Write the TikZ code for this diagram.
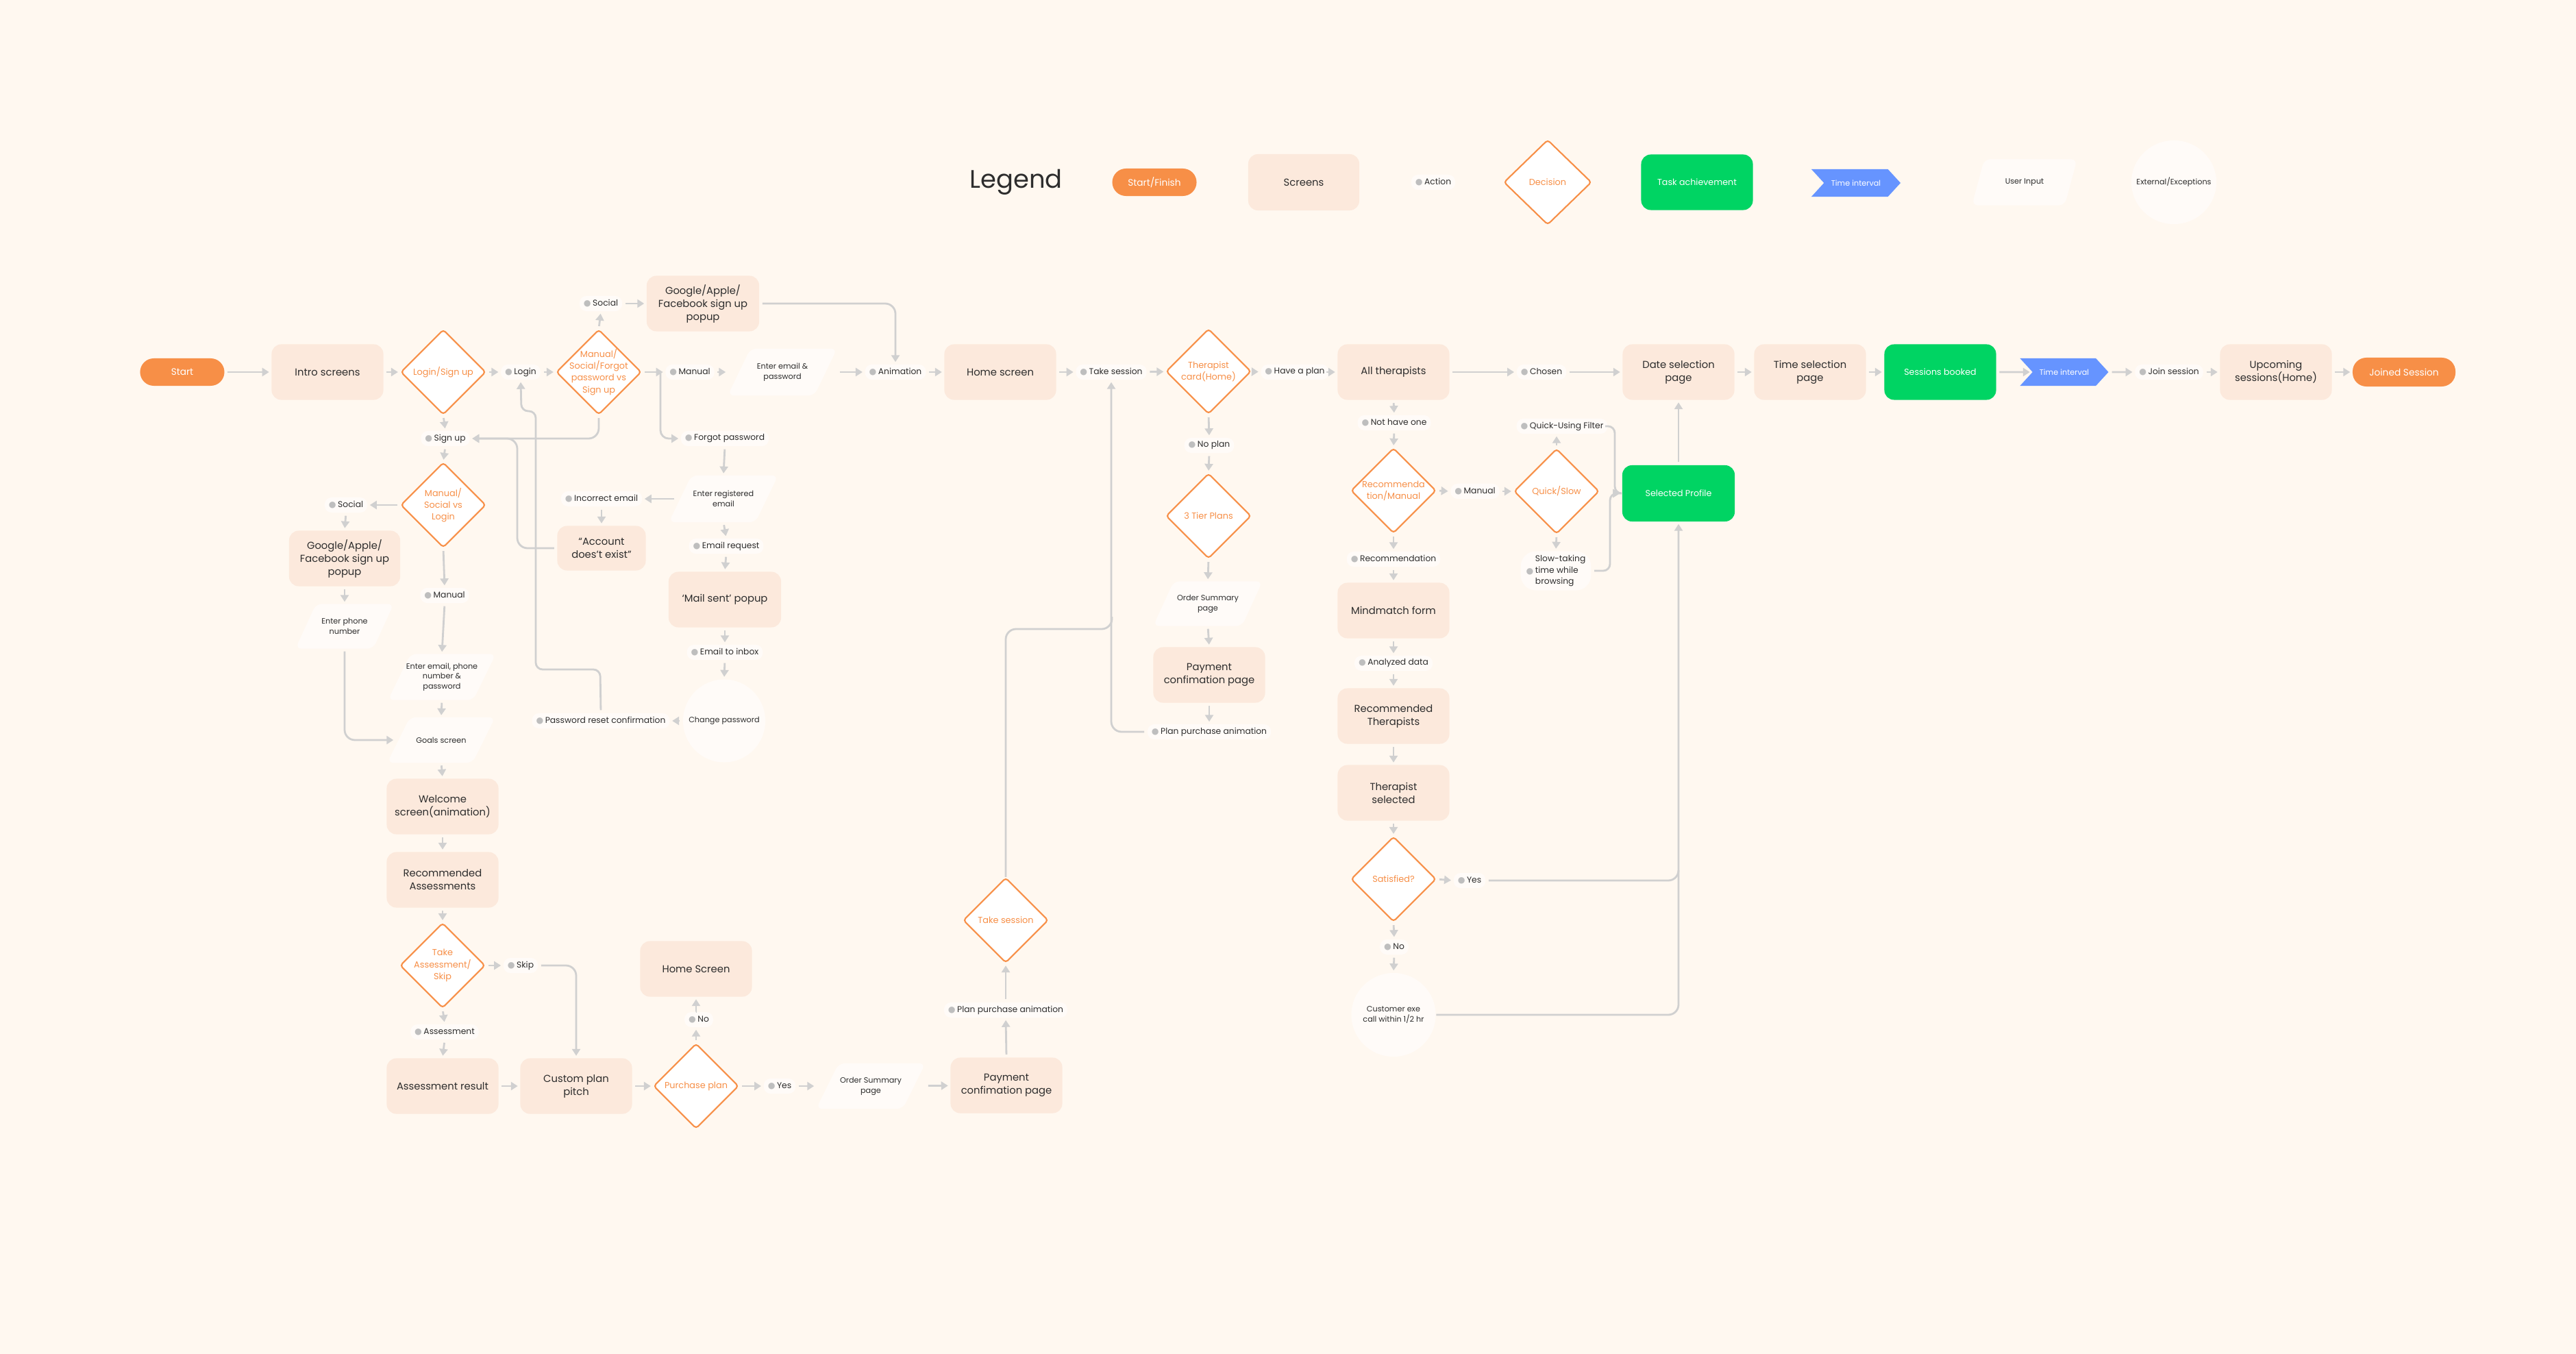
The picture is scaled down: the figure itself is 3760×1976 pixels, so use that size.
\documentclass[tikz,border=0pt]{standalone}
\usepackage{fontspec}
\setmainfont{Poppins}
\newfontfamily\djv{DejaVu Sans}
\usetikzlibrary{shapes.geometric,shapes.symbols,arrows.meta}
\definecolor{cBg}{RGB}{255,248,240}
\definecolor{cScr}{RGB}{252,233,220}
\definecolor{cOrg}{RGB}{247,143,71}
\definecolor{cGrn}{RGB}{0,212,99}
\definecolor{cBlu}{RGB}{102,148,255}
\definecolor{cPale}{RGB}{255,251,248}
\definecolor{cLine}{RGB}{208,208,208}
\definecolor{cDot}{RGB}{190,190,190}
\definecolor{cTxt}{RGB}{45,45,45}
\newcommand\bul{{\djv\textcolor{cDot}{●}}\hspace{0.025cm}}
\tikzset{
 scrbox/.style={rectangle, rounded corners=0.14cm, fill=cScr, minimum width=1.63cm, minimum height=0.81cm, align=center, font=\fontsize{4.2}{5.4}\selectfont, text=cTxt, inner sep=0pt},
 taskbox/.style={scrbox, fill=cGrn, text=white, font=\fontsize{3.6}{4.4}\selectfont},
 actp/.style={rectangle, rounded corners=0.1cm, fill=cPale, minimum height=0.22cm, inner xsep=0.06cm, inner ysep=0pt, font=\fontsize{3.5}{4.6}\selectfont, text=cTxt},
 decd/.style={diamond, draw=cOrg, line width=0.6pt, fill=white, minimum width=1.24cm, minimum height=1.24cm, inner sep=0pt, rounded corners=0.04cm},
 dect/.style={align=center, font=\fontsize{3.65}{4.9}\selectfont, text=cOrg, inner sep=0pt},
 termp/.style={rectangle, rounded corners=0.2cm, fill=cOrg, text=white, minimum width=1.23cm, minimum height=0.40cm, font=\fontsize{3.9}{4.6}\selectfont, inner sep=0pt},
 pbox/.style={rectangle, inner sep=0pt},
 inpt/.style={align=center, font=\fontsize{3.2}{4.2}\selectfont, text=cTxt, inner sep=0pt},
 extp/.style={ellipse, fill=cPale, minimum width=1.22cm, minimum height=1.22cm, inner sep=0pt},
 tintv/.style={signal, signal to=east, signal from=west, signal pointer angle=95, fill=cBlu, text=white, minimum width=1.29cm, minimum height=0.40cm, inner sep=0pt, font=\fontsize{3.2}{4}\selectfont},
 conn/.style={draw=cLine, line width=0.8pt, -{Triangle[length=0.1cm,width=0.12cm]}, shorten <=0.04cm, shorten >=0.03cm},
 lnk/.style={draw=cLine, line width=0.8pt},
}
% parallelogram (user input): name, x, y, width, height, slant, text
\newcommand\mkpara[7]{%
  \node[pbox, minimum width=#4, minimum height=#5] (#1) at (#2,#3) {};
  \fill[cPale, rounded corners=0.09cm] ([xshift=#6]#1.north west) -- (#1.north east) -- ([xshift=-#6]#1.south east) -- (#1.south west) -- cycle;
  \node[inpt] (#1-t) at (#1) {#7};
}
\begin{document}
\begin{tikzpicture}[x=0.01cm,y=-0.01cm]
\fill[cBg] (0,0) rectangle (3760,1976);
\useasboundingbox (0,0) rectangle (3760,1976);

% ---------- Legend ----------
\node[font=\fontsize{10.5}{12}\selectfont, text=cTxt] (lgT) at (1483,266) {Legend};
\node[termp] (lgS) at (1685,266) {Start/Finish};
\node[scrbox, minimum width=1.62cm, minimum height=0.82cm] (lgSc) at (1903,266) {Screens};
\node[actp] (lgA) at (2092,266) {\bul Action};
\node[decd, minimum width=1.28cm] (lgD) at (2259,266) {};
\node[dect] (lgD-t) at (lgD) {Decision};
\node[taskbox] (lgTk) at (2477,266) {Task achievement};
\node[tintv, minimum width=1.30cm] (lgTi) at (2709,267) {Time interval};
\mkpara{lgI}{2955}{266}{1.52cm}{0.66cm}{0.18cm}{User Input}
\node[extp, minimum width=1.24cm] (lgE) at (3173,266) {};
\node[inpt] (lgE-t) at (lgE) {External/Exceptions};

% ---------- Main row ----------
\node[termp] (start) at (266,543) {Start};
\node[scrbox] (intro) at (478,543) {Intro screens};
\node[decd] (dlogin) at (647,543) {};
\node[dect] (dlogin-t) at (dlogin) {Login/Sign up};
\node[actp] (alogin) at (760,543) {\bul Login};
\node[decd] (dmsf) at (874,543) {};
\node[dect] (dmsf-t) at (dmsf) {Manual/\\Social/Forgot\\password vs\\Sign up};
\node[actp] (asoc1) at (877,443) {\bul Social};
\node[scrbox, minimum width=1.64cm] (gpop1) at (1026,443) {Google/Apple/\\Facebook sign up\\popup};
\node[actp] (aman1) at (1007,543) {\bul Manual};
\mkpara{pemail}{1142}{543}{1.58cm}{0.67cm}{0.33cm}{Enter email \&\\password}
\node[actp] (aanim) at (1307,543) {\bul Animation};
\node[scrbox] (home) at (1460,543) {Home screen};
\node[actp] (atake) at (1622,543) {\bul Take session};
\node[decd] (dther) at (1764,542) {};
\node[dect] (dther-t) at (dther) {Therapist\\card(Home)};
\node[actp] (aplan) at (1890,543) {\bul Have a plan};
\node[scrbox] (allther) at (2034,543) {All therapists};
\node[actp] (achosen) at (2250,543) {\bul Chosen};
\node[scrbox] (datesel) at (2450,543) {Date selection\\page};
\node[scrbox] (timesel) at (2642,543) {Time selection\\page};
\node[taskbox] (booked) at (2832,543) {Sessions booked};
\node[tintv] (tint) at (3013,543) {Time interval};
\node[actp] (ajoin) at (3166,543) {\bul Join session};
\node[scrbox] (upcoming) at (3322,543) {Upcoming\\sessions(Home)};
\node[termp, minimum width=1.5cm, minimum height=0.42cm] (joined) at (3509,543) {Joined Session};

% ---------- Sign up branch ----------
\node[actp] (asignup) at (650,640) {\bul Sign up};
\node[decd] (dmsl) at (647,737) {};
\node[dect] (dmsl-t) at (dmsl) {Manual/\\Social vs\\Login};
\node[actp] (asoc2) at (505,737) {\bul Social};
\node[scrbox, minimum width=1.62cm] (gpop2) at (503,815) {Google/Apple/\\Facebook sign up\\popup};
\mkpara{pphone}{503}{914}{1.42cm}{0.64cm}{0.3cm}{Enter phone\\number}
\node[actp] (aman2) at (649,869) {\bul Manual};
\mkpara{pemailph}{645}{988}{1.56cm}{0.66cm}{0.33cm}{Enter email, phone\\number \&\\password}
\mkpara{pgoals}{644}{1080}{1.56cm}{0.65cm}{0.33cm}{Goals screen}
\node[scrbox] (welcome) at (646,1177) {Welcome\\screen(animation)};
\node[scrbox] (recass) at (646,1284) {Recommended\\Assessments};
\node[decd] (dtake) at (646,1409) {};
\node[dect] (dtake-t) at (dtake) {Take\\Assessment/\\Skip};
\node[actp] (askip) at (760,1409) {\bul Skip};
\node[actp] (aassess) at (649,1506) {\bul Assessment};
\node[scrbox] (assres) at (646,1585) {Assessment result};
\node[scrbox] (custom) at (841,1585) {Custom plan\\pitch};
\node[decd] (dpurch) at (1016,1585) {};
\node[dect] (dpurch-t) at (dpurch) {Purchase plan};
\node[actp] (ano1) at (1020,1488) {\bul No};
\node[scrbox] (homescr2) at (1016,1414) {Home Screen};
\node[actp] (ayes1) at (1138,1585) {\bul Yes};
\mkpara{porder2}{1271}{1585}{1.58cm}{0.65cm}{0.33cm}{Order Summary\\page}
\node[scrbox] (pay2) at (1469,1584) {Payment\\confimation page};
\node[actp] (appa2) at (1468,1474) {\bul Plan purchase animation};
\node[decd] (dtakes) at (1468,1343) {};
\node[dect] (dtakes-t) at (dtakes) {Take session};

% ---------- Forgot password branch ----------
\node[actp] (aforgot) at (1058,640) {\bul Forgot password};
\mkpara{pregemail}{1056}{728}{1.58cm}{0.67cm}{0.33cm}{Enter registered\\email}
\node[actp] (aincorrect) at (878,728) {\bul Incorrect email};
\node[scrbox, minimum width=1.29cm, minimum height=0.65cm] (accnot) at (878,800) {“Account\\does’t exist”};
\node[actp] (aemailreq) at (1060,797) {\bul Email request};
\node[scrbox, minimum width=1.64cm] (mailsent) at (1058,875) {‘Mail sent’ popup};
\node[actp] (ainbox) at (1058,952) {\bul Email to inbox};
\node[extp, minimum width=1.20cm, minimum height=1.21cm] (echange) at (1057,1052) {};
\node[inpt] (echange-t) at (echange) {Change password};
\node[actp] (apwreset) at (877,1052) {\bul Password reset confirmation};

% ---------- Therapist card branch ----------
\node[actp] (anoplan) at (1765,650) {\bul No plan};
\node[decd] (dtier) at (1764,753) {};
\node[dect] (dtier-t) at (dtier) {3 Tier Plans};
\mkpara{porder1}{1763}{881}{1.58cm}{0.64cm}{0.3cm}{Order Summary\\page}
\node[scrbox] (pay1) at (1765,985) {Payment\\confimation page};
\node[actp] (appa1) at (1765,1068) {\bul Plan purchase animation};

% ---------- All therapists branch ----------
\node[actp] (anothave) at (2035,617) {\bul Not have one};
\node[decd] (drecman) at (2034,716) {};
\node[dect] (drecman-t) at (drecman) {Recommenda\\tion/Manual};
\node[actp] (arecom) at (2034,816) {\bul Recommendation};
\node[scrbox] (mindmatch) at (2034,891) {Mindmatch form};
\node[actp] (aanalyzed) at (2034,968) {\bul Analyzed data};
\node[scrbox] (recther) at (2034,1045) {Recommended\\Therapists};
\node[scrbox] (thersel) at (2034,1157) {Therapist\\selected};
\node[decd] (dsat) at (2034,1283) {};
\node[dect] (dsat-t) at (dsat) {Satisfied?};
\node[actp] (ayes2) at (2145,1285) {\bul Yes};
\node[actp] (ano2) at (2035,1382) {\bul No};
\node[extp, minimum width=1.23cm] (ecust) at (2034,1481) {};
\node[inpt] (ecust-t) at (ecust) {Customer exe\\call within 1/2 hr};
\node[actp] (aman3) at (2153,717) {\bul Manual};
\node[decd] (dqs) at (2272,717) {};
\node[dect] (dqs-t) at (dqs) {Quick/Slow};
\node[actp] (aquick) at (2280,622) {\bul Quick-Using Filter};
\node[actp, rounded corners=0.22cm, minimum height=0.57cm, inner xsep=0.08cm, font=\fontsize{3.5}{4.7}\selectfont] (aslow) at (2271,833) {\bul\begin{tabular}[c]{@{}l@{}}Slow-taking\\time while\\browsing\end{tabular}};
\node[taskbox, minimum width=1.64cm, minimum height=0.82cm] (selprof) at (2450,720) {Selected Profile};

% ---------- Connectors: main row ----------
\coordinate (br1) at (964,543);
\draw[conn] (start) -- (intro);
\draw[conn] (intro) -- (dlogin);
\draw[conn] (dlogin) -- (alogin);
\draw[conn] (alogin) -- (dmsf);
\draw[conn] (dmsf.north) -- (asoc1.south);
\draw[conn] (asoc1) -- (gpop1);
\draw[conn, rounded corners=0.15cm] (gpop1.east) -| (aanim.north);
\draw[conn] (dmsf) -- (aman1);
\draw[conn, rounded corners=0.12cm, shorten <=0pt] (br1) |- (aforgot.west);
\draw[conn] (aman1) -- (pemail);
\draw[conn] (pemail) -- (aanim);
\draw[conn] (aanim) -- (home);
\draw[conn] (home) -- (atake);
\draw[conn] (atake) -- (dther);
\draw[conn] (dther) -- (aplan);
\draw[conn] (aplan) -- (allther);
\draw[conn] (allther) -- (achosen);
\draw[conn] (achosen) -- (datesel);
\draw[conn] (datesel) -- (timesel);
\draw[conn] (timesel) -- (booked);
\draw[conn] (booked) -- (tint);
\draw[conn] (tint) -- (ajoin);
\draw[conn] (ajoin) -- (upcoming);
\draw[conn] (upcoming) -- (joined);

% ---------- Connectors: sign up ----------
\draw[conn] (dlogin.south) -- (asignup.north);
\draw[conn, rounded corners=0.15cm] (dmsf.south) |- (asignup.east);
\draw[conn, rounded corners=0.15cm] (accnot.west) -- (755,800) -- (755,640) -- (asignup.east);
\draw[conn, rounded corners=0.1cm] (apwreset.north) -- (876,977) -- (782,977) -- (782,600) -- (761,600) -- (alogin.south);
\draw[conn] (asignup.south) -- (dmsl.north);
\draw[conn] (dmsl.west) -- (asoc2.east);
\draw[conn] (asoc2.south) -- (gpop2.north);
\draw[conn] (gpop2.south) -- (pphone.north);
\draw[conn] (dmsl.south) -- (aman2.north);
\draw[conn] (aman2.south) -- (pemailph.north);
\draw[conn] (pemailph.south) -- (pgoals.north);
\draw[conn, rounded corners=0.15cm] (pphone.south) |- ([xshift=0.12cm]pgoals.west);
\draw[conn] (pgoals.south) -- (welcome.north);
\draw[conn] (welcome) -- (recass);
\draw[conn] (recass.south) -- (dtake.north);
\draw[conn] (dtake.east) -- (askip.west);
\draw[conn, rounded corners=0.15cm] (askip.east) -| (custom.north);
\draw[conn] (dtake.south) -- (aassess.north);
\draw[conn] (aassess.south) -- (assres.north);
\draw[conn] (assres) -- (custom);
\draw[conn] (custom) -- (dpurch);
\draw[conn] (dpurch.north) -- (dpurch.north |- ano1.south);
\draw[conn] (ano1.north) -- (ano1.north -| homescr2.south) -- (homescr2.south);
\draw[conn] (dpurch.east) -- (ayes1.west);
\draw[conn] (ayes1) -- (porder2);
\draw[conn] (porder2) -- (pay2);
\draw[conn] (pay2.north) -- (appa2.south);
\draw[conn] (appa2.north) -- (dtakes.south);
\coordinate (jn1) at (1623,900);
\draw[lnk, rounded corners=0.15cm] (dtakes.north) -- (1468,918) -- (1623,918) -- (jn1);

% ---------- Connectors: forgot password ----------
\draw[conn] (aforgot.south) -- (pregemail.north);
\draw[conn] ([xshift=0.12cm]pregemail.west) -- (aincorrect.east);
\draw[conn] (aincorrect.south) -- (accnot.north);
\draw[conn] (pregemail.south) -- (aemailreq.north);
\draw[conn] (aemailreq.south) -- (mailsent.north);
\draw[conn] (mailsent.south) -- (ainbox.north);
\draw[conn] (ainbox.south) -- (echange.north);
\draw[conn] (echange.west) -- (apwreset.east);

% ---------- Connectors: therapist card ----------
\draw[conn] (dther.south) -- (anoplan.north);
\draw[conn] (anoplan.south) -- (dtier.north);
\draw[conn] (dtier.south) -- (porder1.north);
\draw[conn] (porder1.south) -- (pay1.north);
\draw[conn] (pay1.south) -- (appa1.north);
\draw[conn, rounded corners=0.15cm] (appa1.west) -| (atake.south);

% ---------- Connectors: all therapists ----------
\draw[conn] (allther.south) -- (anothave.north);
\draw[conn] (anothave.south) -- (drecman.north);
\draw[conn] (drecman.south) -- (arecom.north);
\draw[conn] (arecom.south) -- (mindmatch.north);
\draw[conn] (mindmatch.south) -- (aanalyzed.north);
\draw[conn] (aanalyzed.south) -- (recther.north);
\draw[conn] (recther) -- (thersel);
\draw[conn] (thersel.south) -- (dsat.north);
\draw[conn] (dsat.east) -- (ayes2.west);
\draw[conn] (dsat.south) -- (ano2.north);
\draw[conn] (ano2.south) -- (ecust.north);
\draw[conn] (drecman.east) -- (aman3.west);
\draw[conn] (aman3) -- (dqs);
\draw[conn] (dqs.north) -- (dqs.north |- aquick.south);
\draw[conn] (dqs.south) -- (aslow.north);
\draw[conn, rounded corners=0.1cm] (aquick.east) -- (2357,622) -- (2357,720) -- (selprof.west);
\draw[conn, rounded corners=0.1cm] (aslow.east) -- (2350,833) -- (2350,720) -- (selprof.west);
\draw[conn] (selprof.north) -- (datesel.south);
\draw[conn, rounded corners=0.15cm] (ayes2.east) -| (selprof.south);
\coordinate (jn2) at (2450,1270);
\draw[lnk, rounded corners=0.15cm] (ecust.east) -| (jn2);
\end{tikzpicture}
\end{document}
